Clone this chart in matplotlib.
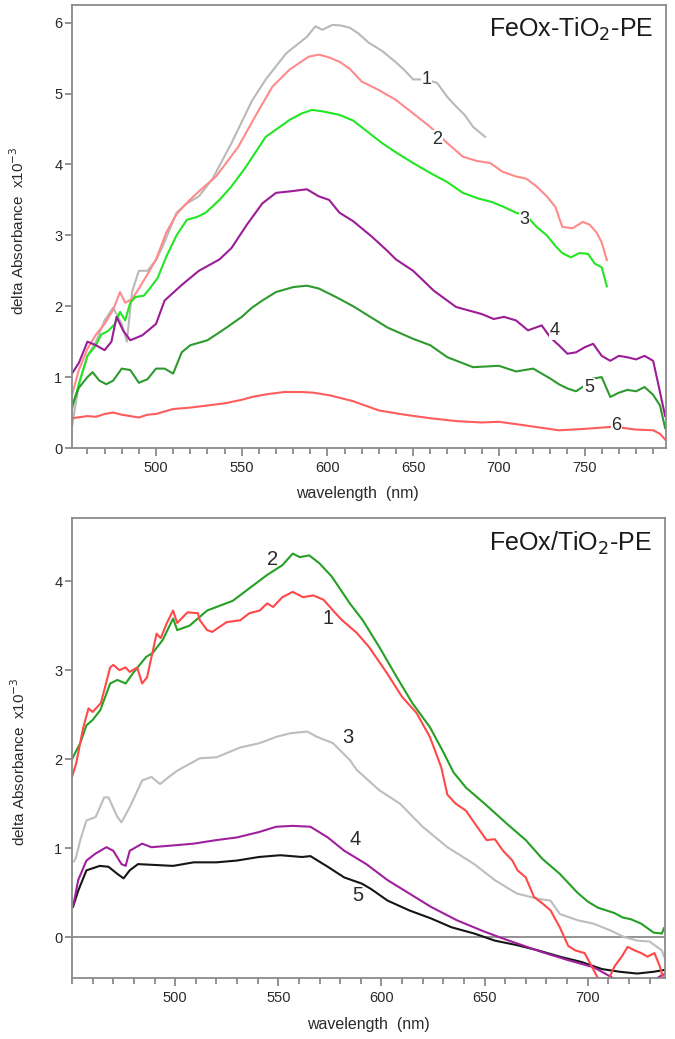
import matplotlib
matplotlib.use('Agg')
import matplotlib.pyplot as plt
from matplotlib.ticker import MultipleLocator, FixedLocator

plt.rcParams['font.family'] = ['Liberation Sans', 'DejaVu Sans']

# ---- top panel: FeOx-TiO2-PE ----
t1_x = [451, 455, 460, 465, 470, 475, 480, 483, 486, 490, 495, 500, 504, 512, 518, 525, 533, 544, 556, 564,
        576, 588, 593, 597, 603, 608, 613, 618, 624, 632, 640, 645, 650, 657, 664, 670, 675, 680, 685, 692]
t1_y = [0.3, 0.9, 1.3, 1.5, 1.8, 1.98, 1.75, 1.5, 2.2, 2.5, 2.5, 2.65, 2.85, 3.32, 3.45, 3.55, 3.8, 4.3, 4.9, 5.2,
        5.57, 5.8, 5.95, 5.9, 5.97, 5.96, 5.93, 5.85, 5.72, 5.6, 5.44, 5.33, 5.2, 5.2, 5.15, 4.95, 4.82, 4.7, 4.53, 4.39]

t2_x = [451, 455, 460, 465, 470, 475, 479, 482, 486, 490, 495, 500, 506, 512, 518, 525, 535, 548, 560, 568,
        578, 589, 595, 601, 607, 613, 620, 630, 640, 650, 660, 670, 679, 687, 695, 702, 710, 716, 722, 728,
        733, 737, 743, 749, 753, 757, 760, 763]
t2_y = [0.75, 1.1, 1.4, 1.6, 1.75, 1.95, 2.2, 2.05, 2.1, 2.25, 2.45, 2.66, 3.04, 3.3, 3.46, 3.62, 3.83, 4.25, 4.77, 5.1,
        5.34, 5.52, 5.55, 5.51, 5.45, 5.35, 5.17, 5.05, 4.91, 4.72, 4.53, 4.3, 4.11, 4.05, 4.02, 3.9, 3.83, 3.8, 3.69, 3.55,
        3.4, 3.12, 3.1, 3.19, 3.15, 3.04, 2.9, 2.65]

t3_x = [451, 455, 460, 465, 468, 472, 476, 479, 482, 485, 488, 493, 497, 501, 506, 512, 518, 524, 529, 537,
        544, 552, 564, 578, 585, 591, 597, 601, 607, 615, 624, 632, 640, 650, 660, 670, 679, 688, 696, 703,
        710, 716, 722, 728, 733, 737, 742, 747, 752, 756, 760, 763]
t3_y = [0.55, 0.9, 1.3, 1.45, 1.6, 1.65, 1.75, 1.92, 1.8, 2.05, 2.13, 2.15, 2.27, 2.4, 2.7, 3.0, 3.22, 3.26, 3.32, 3.5,
        3.69, 3.95, 4.39, 4.63, 4.72, 4.77, 4.75, 4.73, 4.7, 4.62, 4.45, 4.3, 4.17, 4.02, 3.88, 3.75, 3.6, 3.52, 3.47, 3.4,
        3.32, 3.28, 3.12, 3.0, 2.85, 2.75, 2.69, 2.75, 2.74, 2.6, 2.55, 2.28]

t4_x = [451, 455, 460, 465, 470, 474, 477, 481, 485, 492, 500, 505, 515, 525, 537, 544, 553, 562, 570, 578,
        588, 595, 601, 607, 615, 626, 635, 640, 650, 662, 675, 690, 697, 703, 710, 717, 725, 730, 735, 740,
        745, 750, 755, 760, 765, 770, 775, 780, 785, 790, 793, 797]
t4_y = [1.05, 1.2, 1.5, 1.45, 1.38, 1.5, 1.85, 1.65, 1.52, 1.59, 1.75, 2.08, 2.3, 2.5, 2.66, 2.82, 3.15, 3.45, 3.6, 3.62,
        3.65, 3.55, 3.5, 3.32, 3.2, 2.98, 2.78, 2.66, 2.5, 2.22, 1.99, 1.89, 1.82, 1.85, 1.8, 1.66, 1.73, 1.56, 1.45, 1.33,
        1.35, 1.42, 1.47, 1.3, 1.23, 1.3, 1.28, 1.25, 1.3, 1.23, 0.9, 0.45]

t5_x = [451, 455, 460, 463, 467, 471, 475, 480, 485, 490, 495, 500, 505, 510, 515, 520, 530, 540, 550, 556,
        562, 570, 580, 588, 595, 605, 615, 625, 635, 650, 660, 670, 685, 700, 710, 720, 730, 735, 740, 745,
        750, 755, 760, 765, 770, 775, 780, 785, 790, 794, 797]
t5_y = [0.6, 0.85, 1.0, 1.07, 0.95, 0.9, 0.95, 1.12, 1.1, 0.92, 0.97, 1.12, 1.12, 1.05, 1.35, 1.45, 1.52, 1.68, 1.85, 1.98,
        2.08, 2.2, 2.27, 2.29, 2.25, 2.13, 2.0, 1.85, 1.7, 1.54, 1.45, 1.28, 1.14, 1.16, 1.08, 1.12, 0.98, 0.9, 0.84, 0.8,
        0.88, 0.98, 1.0, 0.72, 0.78, 0.82, 0.8, 0.86, 0.75, 0.6, 0.28]

t6_x = [451, 460, 465, 470, 475, 480, 485, 490, 495, 500, 510, 520, 530, 540, 550, 556, 565, 575, 585, 592,
        602, 615, 630, 645, 660, 675, 690, 700, 715, 735, 750, 767, 780, 790, 794, 797]
t6_y = [0.42, 0.45, 0.44, 0.48, 0.5, 0.47, 0.45, 0.43, 0.47, 0.48, 0.55, 0.57, 0.6, 0.63, 0.68, 0.72, 0.76, 0.79, 0.79, 0.78,
        0.74, 0.66, 0.53, 0.47, 0.42, 0.38, 0.36, 0.37, 0.32, 0.25, 0.27, 0.3, 0.26, 0.25, 0.2, 0.12]

top_curves = [(t1_x, t1_y, '#b9b9b9'), (t2_x, t2_y, '#ff8a8a'), (t3_x, t3_y, '#22e622'),
              (t4_x, t4_y, '#9c1c98'), (t5_x, t5_y, '#2e9a2e'), (t6_x, t6_y, '#ff5c5c')]
top_labels = ['1', '2', '3', '4', '5', '6']
top_label_pos = [(657.7, 5.2), (664, 4.35), (715, 3.22), (732.5, 1.66), (752.5, 0.86), (768.7, 0.32)]
top_xticks = [500, 550, 600, 650, 700, 750]

# ---- bottom panel: FeOx/TiO2-PE ----
b1_x = [450, 452, 455.5, 458, 460, 464, 468.5, 470, 473, 476, 478, 481.6, 484, 486.4, 491, 493, 496, 499, 501, 506,
        511, 512, 515.5, 518, 525, 531.5, 536, 541, 544.6, 547.5, 552, 557, 562, 567, 572, 578.5, 581, 588, 594, 602.6,
        610, 617, 623.5, 629, 632, 636, 641, 647, 651, 655, 659, 663.5, 666, 670, 674, 678, 682, 686.5, 690.6, 694,
        698.5, 702, 705.8, 709.7, 713, 716.5, 719.4, 722.8, 726, 729, 732.4, 735, 737]
b1_y = [1.8, 1.95, 2.36, 2.57, 2.53, 2.63, 3.03, 3.06, 3.0, 3.03, 2.98, 3.03, 2.85, 2.92, 3.41, 3.36, 3.53, 3.67, 3.53, 3.65,
        3.64, 3.56, 3.45, 3.43, 3.54, 3.56, 3.64, 3.67, 3.75, 3.71, 3.82, 3.88, 3.82, 3.84, 3.79, 3.62, 3.56, 3.42, 3.26, 2.97,
        2.7, 2.52, 2.25, 1.91, 1.6, 1.5, 1.42, 1.22, 1.09, 1.1, 0.97, 0.86, 0.75, 0.67, 0.45, 0.38, 0.3, 0.11, -0.1, -0.15,
        -0.18, -0.33, -0.5, -0.5, -0.33, -0.22, -0.11, -0.15, -0.18, -0.22, -0.18, -0.33, -0.5]

b2_x = [450, 454, 457, 460, 463.7, 468.5, 472, 476, 479.7, 486, 489, 494, 499, 501, 507, 515.5, 528, 536, 544.6, 552,
        557, 560.5, 565, 570, 576, 584.7, 591, 599, 607.5, 615, 623.5, 630, 635, 641, 651, 661, 670, 678, 686.5, 695,
        700, 705, 713, 717, 721, 726, 732, 736, 737]
b2_y = [2.0, 2.18, 2.38, 2.44, 2.55, 2.85, 2.89, 2.85, 2.97, 3.15, 3.19, 3.34, 3.58, 3.45, 3.5, 3.67, 3.78, 3.92, 4.07, 4.18,
        4.31, 4.27, 4.29, 4.2, 4.05, 3.75, 3.56, 3.26, 2.92, 2.63, 2.36, 2.08, 1.85, 1.68, 1.48, 1.27, 1.09, 0.88, 0.71, 0.5,
        0.4, 0.33, 0.27, 0.22, 0.2, 0.15, 0.05, 0.04, 0.1]

b3_x = [451, 452, 454, 457, 461.5, 465.6, 467.7, 472, 474, 478, 484, 488.5, 492.7, 497, 501, 512, 520, 531.5, 541, 549,
        555.7, 564, 568.8, 576.5, 584.7, 588, 599, 609, 620, 632, 645, 655, 665.6, 676, 682, 686.5, 695, 703, 711.5, 717.7,
        724, 730, 736, 737]
b3_y = [0.85, 0.9, 1.09, 1.31, 1.35, 1.57, 1.57, 1.35, 1.29, 1.46, 1.76, 1.8, 1.72, 1.8, 1.87, 2.01, 2.02, 2.13, 2.18, 2.25,
        2.29, 2.31, 2.25, 2.18, 1.99, 1.88, 1.65, 1.5, 1.24, 1.01, 0.82, 0.64, 0.49, 0.43, 0.41, 0.26, 0.19, 0.15, 0.07, 0.0,
        -0.04, -0.05, -0.15, -0.22]

b4_x = [450.5, 453, 457, 461.5, 466.7, 470, 474, 476, 478, 484, 488.5, 499, 509, 520, 530, 540.6, 549, 557, 565.6, 574,
        582, 592.7, 603, 613.5, 624, 636.5, 649, 657, 665.6, 678, 690.6, 703, 711.5, 714, 720, 730, 735.8, 737]
b4_y = [0.34, 0.64, 0.86, 0.94, 1.01, 0.97, 0.82, 0.8, 0.97, 1.05, 1.01, 1.03, 1.05, 1.09, 1.12, 1.18, 1.24, 1.25, 1.24, 1.12,
        0.97, 0.82, 0.64, 0.49, 0.34, 0.19, 0.07, 0.0, -0.07, -0.17, -0.26, -0.34, -0.45, -0.5, -0.55, -0.52, -0.43, -0.42]

b5_x = [450.5, 453, 457, 463.5, 467.7, 472, 475, 478, 482, 499, 509, 520, 530, 540.6, 551, 561.5, 565.6, 574, 582, 590.6,
        595, 603, 613.5, 624, 634, 645, 655, 665.6, 676, 686.5, 697, 707, 715.6, 724, 732, 737]
b5_y = [0.34, 0.52, 0.75, 0.8, 0.79, 0.71, 0.66, 0.75, 0.82, 0.8, 0.84, 0.84, 0.86, 0.9, 0.92, 0.9, 0.91, 0.79, 0.67, 0.6,
        0.54, 0.41, 0.3, 0.21, 0.11, 0.04, -0.04, -0.09, -0.15, -0.22, -0.28, -0.36, -0.39, -0.41, -0.39, -0.37]

bot_curves = [(b3_x, b3_y, '#bdbdbd'), (b5_x, b5_y, '#151515'), (b4_x, b4_y, '#a0209c'),
              (b2_x, b2_y, '#24a024'), (b1_x, b1_y, '#ff4848')]
bot_labels = ['2', '1', '3', '4', '5']
bot_label_pos = [(547, 4.24), (574, 3.58), (583.8, 2.24), (587.5, 1.1), (588.5, 0.47)]
bot_xticks = [500, 550, 600, 650, 700]

spine_col = '#8a8a8a'
text_col = '#2a2a2a'

fig = plt.figure(figsize=(6.75, 10.39), dpi=100)
ax1 = fig.add_axes([72 / 675, 1 - 448 / 1039, 594 / 675, 443 / 1039])
ax2 = fig.add_axes([72 / 675, 1 - 978 / 1039, 593 / 675, 460 / 1039])


def style(ax, xmin, xmax, ymin, ymax, xticks, title, xlab_x, ylab_y):
    ax.set_xlim(xmin, xmax)
    ax.set_ylim(ymin, ymax)
    for s in ax.spines.values():
        s.set_color(spine_col)
        s.set_linewidth(1.3)
    ax.xaxis.set_major_locator(FixedLocator(xticks))
    ax.xaxis.set_minor_locator(MultipleLocator(10))
    ax.yaxis.set_major_locator(MultipleLocator(1))
    ax.tick_params(axis='both', which='major', direction='out', color=spine_col, width=1.3,
                   labelsize=10.5, labelcolor=text_col, pad=2)
    ax.tick_params(axis='x', which='major', length=6, pad=3)
    ax.tick_params(axis='x', which='minor', length=4, color=spine_col, width=1.3)
    ax.tick_params(axis='y', which='major', length=5)
    ax.set_xlabel('wavelength  (nm)', fontsize=11.5, color=text_col)
    ax.xaxis.set_label_coords(xlab_x, -0.085)
    ax.set_ylabel(r'delta Absorbance  x10$^{-3}$', fontsize=11, color=text_col)
    ax.yaxis.set_label_coords(-0.075, ylab_y)
    ax.text(0.978, 0.945, title, transform=ax.transAxes, ha='right', va='center',
            fontsize=18, color='#1a1a1a')


style(ax1, 451, 797.5, 0, 6.25, top_xticks, r'FeOx-TiO$_2$-PE', 0.48, 0.49)
style(ax2, 450, 737.5, -0.46, 4.71, bot_xticks, r'FeOx/TiO$_2$-PE', 0.5, 0.47)

for x, y, c in top_curves:
    ax1.plot(x, y, color=c, lw=1.5)
for lab, (lx, ly) in zip(top_labels, top_label_pos):
    ax1.text(lx, ly, lab, fontsize=13, ha='center', va='center', color=text_col,
             bbox=dict(facecolor='white', edgecolor='none', pad=0.5))

ax2.axhline(0, color=spine_col, lw=1.3, zorder=1)
for x, y, c in bot_curves:
    ax2.plot(x, y, color=c, lw=1.5, zorder=2)
for lab, (lx, ly) in zip(bot_labels, bot_label_pos):
    ax2.text(lx, ly, lab, fontsize=14.5, ha='center', va='center', color=text_col)

fig.savefig('out.png', dpi=100)
